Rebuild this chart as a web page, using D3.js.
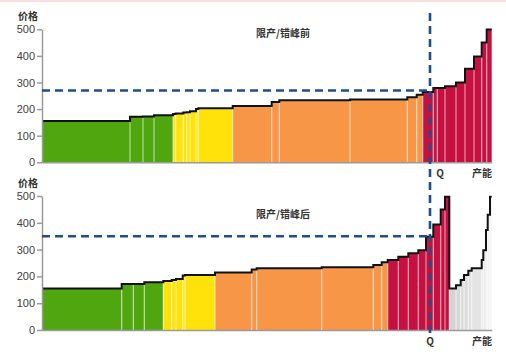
<!DOCTYPE html>
<html>
<head>
<meta charset="utf-8">
<script src="https://cdn.jsdelivr.net/npm/d3@7"></script>
<style>
  body { margin: 0; background: #fff; }
  svg { display: block; }
  .tick text { font-family: "Liberation Sans", Arial, sans-serif; font-size: 11px; fill: #404040; }
  .cjk { font-family: "Noto Sans CJK SC", sans-serif; font-weight: bold; fill: #333; }
</style>
</head>
<body>
<svg id="chart" width="506" height="352"></svg>
<script>
// capacity widths, prices and producer group for each step, before cuts
const beforeWidths = [88, 13, 11, 19, 2.7, 7.6, 3.4, 3.3, 6, 2.3, 34.4, 39, 7.6, 70.7, 57.3, 9.4, 6, 10.6, 4, 7.7, 11, 9, 9, 7.7, 5, 5];
const beforePrices = [155, 171, 172, 177, 182, 183, 187, 188, 192, 200, 203, 212, 227, 233, 236, 245, 254, 264, 279, 279, 286, 300, 352, 398, 450, 499];
const beforeGroups = ["g", "g", "g", "g", "y", "y", "y", "y", "y", "y", "y", "o", "o", "o", "o", "o", "o", "r", "r", "r", "r", "r", "r", "r", "r", "r"];

// after cuts: the removed capacity sits at the right in grey
const afterWidths = [79.7, 11.6, 11, 19, 8.4, 4.3, 6.7, 2.3, 30, 36.7, 5, 65, 51.6, 8.4, 6, 10.6, 10, 10, 7.7, 7.3, 7.4, 4.3, 4.3,
  6.7, 4.7, 3.3, 4.3, 3.4, 10, 1.6, 2.7, 1.7, 2.3, 1.7];
const afterPrices = [155, 172, 172, 178, 183, 187, 190, 203, 205, 215, 226, 230, 234, 243, 253, 261, 273, 286, 298, 348, 394, 450, 497,
  155, 167, 187, 205, 221, 230, 261, 298, 373, 430, 497];
const afterGroups = ["g", "g", "g", "g", "y", "y", "y", "y", "y", "o", "o", "o", "o", "o", "o", "r", "r", "r", "r", "r", "r", "r", "r",
  "x", "x", "x", "x", "x", "x", "x", "x", "x", "x", "x"];

const yTicks = [0, 100, 200, 300, 400, 500];
const totalCapacity = 449.7;
const qCapacity = 388;
const beforePrice = 270;
const afterPrice = 350;

const colors = { g: "#4FA60F", y: "#FFE20A", o: "#F79646", r: "#C6103F" };
const dashColor = "#1F4E8C";

let svg = d3.select("#chart");

// thin pink line at the very top
svg.append("rect").attr("x", 0).attr("y", 0).attr("width", 506).attr("height", 2).attr("fill", "#f8dede");

let x = d3.scaleLinear().domain([0, totalCapacity]).range([42, 491.7]);

function buildSteps(widths, prices, groups) {
  let acc = 0;
  return widths.map((w, i) => {
    let d = { x0: acc, x1: acc + w, price: prices[i], group: groups[i] };
    acc += w;
    return d;
  });
}

function drawPanel(steps, yRange, title, titleY, price, qLabelX) {
  let y = d3.scaleLinear().domain([0, 500]).range(yRange);
  let g = svg.append("g");

  // grey shades for the cut capacity, lighter to the right
  let greys = steps.filter(d => d.group === "x");
  let greyShade = d3.scaleLinear().domain([0, Math.max(1, greys.length - 1)]).range(["#d4d4d4", "#f3f3f3"]);

  g.selectAll("rect.bar")
    .data(steps)
    .enter()
    .append("rect")
    .attr("class", "bar")
    .attr("x", d => x(d.x0))
    .attr("y", d => y(d.price))
    .attr("width", d => x(d.x1) - x(d.x0))
    .attr("height", d => y(0) - y(d.price))
    .attr("fill", d => d.group === "x" ? greyShade(greys.indexOf(d)) : colors[d.group]);

  // light separators between producers
  g.selectAll("line.sep")
    .data(steps.slice(1))
    .enter()
    .append("line")
    .attr("x1", d => x(d.x0))
    .attr("x2", d => x(d.x0))
    .attr("y1", y(0))
    .attr("y2", d => y(d.price))
    .attr("stroke", "#fff")
    .attr("stroke-opacity", 0.5)
    .attr("stroke-width", 1.3);

  // step outline
  let pts = steps.map(d => [d.x0, d.price]);
  pts.push([steps[steps.length - 1].x1, steps[steps.length - 1].price]);
  let line = d3.line()
    .x(d => x(d[0]))
    .y(d => y(d[1]))
    .curve(d3.curveStepAfter);
  g.append("path")
    .attr("d", line(pts))
    .attr("fill", "none")
    .attr("stroke", "#111")
    .attr("stroke-width", 2);

  // axes
  let yAxis = g.append("g")
    .attr("transform", "translate(42,0)")
    .call(d3.axisLeft(y).tickValues(yTicks).tickSize(5).tickSizeOuter(0).tickPadding(2));
  yAxis.selectAll("path, line").attr("stroke", "#9a9a9a").attr("stroke-width", 1.5);

  let xAxis = g.append("g")
    .attr("transform", "translate(0," + y(0) + ")")
    .call(d3.axisBottom(x).tickValues([]).tickSizeOuter(0));
  xAxis.select("path").attr("stroke", "#9a9a9a").attr("stroke-width", 1.5);

  // clearing price
  g.append("line")
    .attr("x1", x(0)).attr("x2", x(qCapacity))
    .attr("y1", y(price)).attr("y2", y(price))
    .attr("stroke", dashColor)
    .attr("stroke-width", 2.6)
    .attr("stroke-dasharray", "8,5");

  g.append("text").attr("class", "cjk")
    .attr("x", 28).attr("y", yRange[1] - 9)
    .attr("text-anchor", "middle").attr("font-size", 10)
    .text("价格");

  g.append("text").attr("class", "cjk")
    .attr("x", 283).attr("y", titleY)
    .attr("text-anchor", "middle").attr("font-size", 10)
    .text(title);

  g.append("text").attr("class", "cjk")
    .attr("x", qLabelX).attr("y", y(0) + 15)
    .attr("text-anchor", "middle").attr("font-size", 10)
    .text("Q");

  g.append("text").attr("class", "cjk")
    .attr("x", 482).attr("y", y(0) + 15)
    .attr("text-anchor", "middle").attr("font-size", 10)
    .text("产能");
}

drawPanel(buildSteps(beforeWidths, beforePrices, beforeGroups), [162.3, 29.3], "限产/错峰前", 37, beforePrice, 440);
drawPanel(buildSteps(afterWidths, afterPrices, afterGroups), [330, 196], "限产/错峰后", 218, afterPrice, 430);

// quantity line crossing both panels
svg.append("line")
  .attr("x1", x(qCapacity)).attr("x2", x(qCapacity))
  .attr("y1", 13).attr("y2", 337)
  .attr("stroke", dashColor)
  .attr("stroke-width", 2.6)
  .attr("stroke-dasharray", "8,5");
</script>
</body>
</html>
